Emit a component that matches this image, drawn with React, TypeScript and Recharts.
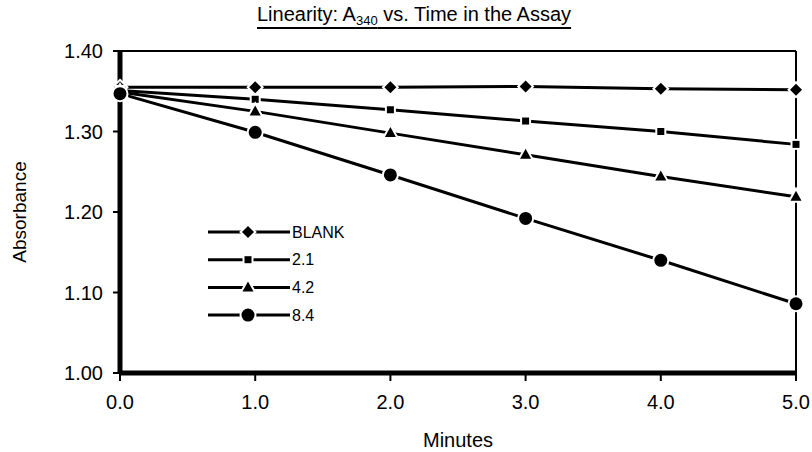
import React from "react";
import { Legend, Line, LineChart, ReferenceLine, XAxis, YAxis } from "recharts";

const FONT = '"Liberation Sans", Arial, sans-serif';

// minutes after start
const minutes = [0, 1, 2, 3, 4, 5];

// A340 readings per enzyme level
const blank = [1.355, 1.355, 1.355, 1.356, 1.353, 1.352];
const level21 = [1.351, 1.34, 1.327, 1.313, 1.3, 1.284];
const level42 = [1.349, 1.325, 1.298, 1.271, 1.244, 1.219];
const level84 = [1.347, 1.299, 1.246, 1.192, 1.14, 1.086];

const xTicks = [0, 1, 2, 3, 4, 5];
const yTicks = [1.0, 1.1, 1.2, 1.3, 1.4];

type Shape = "diamond" | "square" | "triangle" | "circle";

const series: { key: string; name: string; shape: Shape; values: number[] }[] = [
  { key: "blank", name: "BLANK", shape: "diamond", values: blank },
  { key: "l21", name: "2.1", shape: "square", values: level21 },
  { key: "l42", name: "4.2", shape: "triangle", values: level42 },
  { key: "l84", name: "8.4", shape: "circle", values: level84 },
];

const data = minutes.map((t, i) => {
  const row: Record<string, number> = { t };
  series.forEach((s) => (row[s.key] = s.values[i]));
  return row;
});

function Marker({ shape, cx, cy }: { shape: Shape; cx: number; cy: number }) {
  const common = {
    fill: "#000",
    stroke: "#fff",
    strokeWidth: 4,
    style: { paintOrder: "stroke" } as React.CSSProperties,
  };
  if (shape === "diamond")
    return (
      <polygon
        points={`${cx},${cy - 6} ${cx + 6},${cy} ${cx},${cy + 6} ${cx - 6},${cy}`}
        {...common}
      />
    );
  if (shape === "square")
    return <rect x={cx - 3.5} y={cy - 3.5} width={7} height={7} {...common} />;
  if (shape === "triangle")
    return (
      <polygon
        points={`${cx},${cy - 6} ${cx + 5.5},${cy + 4} ${cx - 5.5},${cy + 4}`}
        {...common}
      />
    );
  return <circle cx={cx} cy={cy} r={6.5} {...common} />;
}

function renderLegend() {
  return (
    <svg width={160} height={112} style={{ display: "block", overflow: "visible" }}>
      {series.map((s, i) => {
        const y = 14 + i * 27.7;
        return (
          <g key={s.key}>
            <line x1={8} x2={90} y1={y} y2={y} stroke="#000" strokeWidth={3} />
            <Marker shape={s.shape} cx={48} cy={y} />
            <text
              x={92}
              y={y}
              dominantBaseline="central"
              fontSize={16}
              fontFamily={FONT}
              fill="#000"
            >
              {s.name}
            </text>
          </g>
        );
      })}
    </svg>
  );
}

export default function App() {
  const tickStyle = { fill: "#000", fontSize: 20, fontFamily: FONT };
  return (
    <div style={{ position: "relative", width: 812, height: 452, fontFamily: FONT }}>
      <style>{`body{margin:0}`}</style>
      <div
        style={{
          position: "absolute",
          left: 257,
          top: 4,
          fontSize: 20,
          lineHeight: "20px",
          color: "#000",
          textDecoration: "underline",
          textUnderlineOffset: 6,
          textDecorationThickness: 2,
          whiteSpace: "nowrap",
          zIndex: 2,
        }}
      >
        Linearity: A<span style={{ fontSize: 13, verticalAlign: -4 }}>340</span> vs. Time in
        the Assay
      </div>
      <LineChart
        width={812}
        height={452}
        data={data}
        margin={{ top: 51, right: 16, left: 0, bottom: 0 }}
      >
        <XAxis
          dataKey="t"
          type="number"
          domain={[0, 5]}
          ticks={xTicks}
          tickFormatter={(v) => Number(v).toFixed(1)}
          height={79}
          axisLine={{ stroke: "#000", strokeWidth: 5 }}
          tickLine={{ stroke: "#000", strokeWidth: 2 }}
          tickSize={8}
          tickMargin={14}
          tick={tickStyle}
          label={{
            value: "Minutes",
            position: "insideBottom",
            offset: 5,
            fill: "#000",
            fontSize: 20,
            fontFamily: FONT,
          }}
        />
        <YAxis
          type="number"
          domain={[1.0, 1.4]}
          ticks={yTicks}
          tickFormatter={(v) => Number(v).toFixed(2)}
          width={120}
          axisLine={{ stroke: "#000", strokeWidth: 5 }}
          tickLine={{ stroke: "#000", strokeWidth: 2 }}
          tickSize={7}
          tickMargin={10}
          tick={tickStyle}
          allowDataOverflow
          label={{
            content: () => (
              <text
                x={19}
                y={212}
                transform="rotate(-90 19 212)"
                textAnchor="middle"
                dominantBaseline="central"
                fontSize={19}
                fontFamily={FONT}
                fill="#000"
              >
                Absorbance
              </text>
            ),
          }}
        />
        <ReferenceLine y={1.4} stroke="#000" strokeWidth={2} />
        <ReferenceLine x={5} stroke="#000" strokeWidth={2} />
        <Legend
          layout="vertical"
          align="center"
          verticalAlign="middle"
          content={renderLegend}
          wrapperStyle={{ left: 200, top: 218, width: 160, height: 112 }}
        />
        {series.map((s) => (
          <Line
            key={s.key}
            dataKey={s.key}
            name={s.name}
            type="linear"
            stroke="#000"
            strokeWidth={3}
            isAnimationActive={false}
            activeDot={false}
            dot={(p: any) => (
              <Marker key={`${s.key}-${p.index}`} shape={s.shape} cx={p.cx} cy={p.cy} />
            )}
          />
        ))}
      </LineChart>
    </div>
  );
}
